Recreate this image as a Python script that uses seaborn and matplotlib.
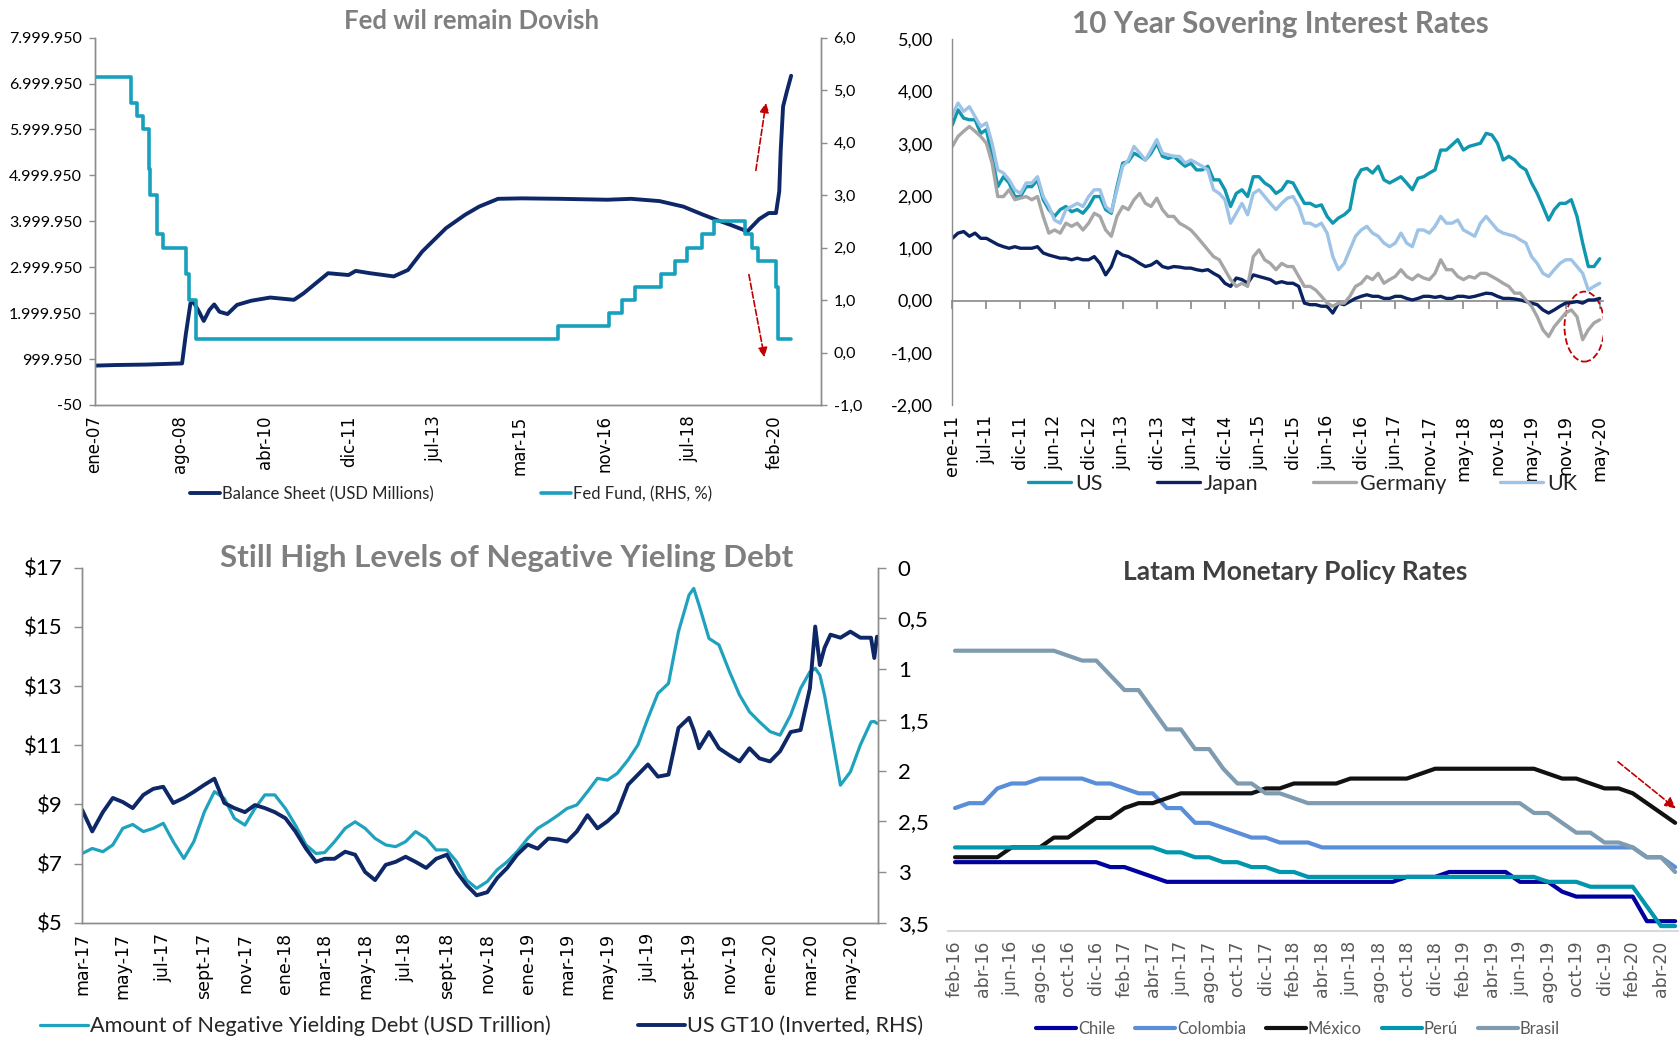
import numpy as np
import pandas as pd
import matplotlib.pyplot as plt
from matplotlib.patches import Ellipse
import seaborn as sns

sns.set_theme(style='white')
plt.rcParams['font.family'] = ['Lato', 'DejaVu Sans']

# ---------------- datos ----------------
# 1) Fed balance sheet (USD millones) y Fed Funds
bs_fechas = ['2007-01-01', '2007-06-01', '2008-01-01', '2008-09-10', '2008-10-06', '2008-11-08',
             '2008-11-28', '2009-01-08', '2009-02-10', '2009-03-22', '2009-04-25', '2009-06-01',
             '2009-07-28', '2009-10-03', '2010-01-11', '2010-05-25', '2010-11-09', '2011-01-15',
             '2011-07-08', '2011-11-29', '2012-01-19', '2012-04-28', '2012-10-13', '2013-01-22',
             '2013-05-02', '2013-10-17', '2014-02-28', '2014-06-08', '2014-10-20', '2015-04-06',
             '2015-12-30', '2016-11-30', '2017-05-16', '2017-12-03', '2018-05-20', '2018-10-01',
             '2019-01-10', '2019-04-20', '2019-08-15', '2019-09-18', '2019-11-07', '2020-01-13',
             '2020-03-04', '2020-03-27', '2020-04-06', '2020-04-23', '2020-05-20', '2020-06-19']
bs_valores = [857000, 870000, 880000, 905000, 1530000, 2210000,
              2250000, 2030000, 1830000, 2070000, 2190000, 2030000,
              1980000, 2180000, 2270000, 2340000, 2290000, 2430000,
              2870000, 2830000, 2920000, 2870000, 2800000, 2940000,
              3340000, 3850000, 4140000, 4320000, 4490000, 4500000,
              4490000, 4470000, 4490000, 4440000, 4320000, 4150000,
              4030000, 3920000, 3780000, 3890000, 4050000, 4180000,
              4180000, 4650000, 5520000, 6500000, 6830000, 7170000]
ff_fechas = ['2007-01-01', '2007-09-18', '2007-10-31', '2007-12-11', '2008-01-22', '2008-01-30',
             '2008-03-18', '2008-04-30', '2008-10-08', '2008-10-29', '2008-12-16', '2015-12-16',
             '2016-12-14', '2017-03-15', '2017-06-14', '2017-12-13', '2018-03-21', '2018-06-13',
             '2018-09-26', '2018-12-19', '2019-07-31', '2019-09-18', '2019-10-30', '2020-03-03',
             '2020-03-15', '2020-06-19']
ff_tasas = [5.25, 4.75, 4.50, 4.25, 3.50, 3.00, 2.25, 2.00, 1.50, 1.00, 0.25, 0.50,
            0.75, 1.00, 1.25, 1.50, 1.75, 2.00, 2.25, 2.50, 2.25, 2.00, 1.75, 1.25,
            0.25, 0.25]
p1_ticks = ['2007-01-01', '2008-08-23', '2010-04-15', '2011-12-06', '2013-07-29',
            '2015-03-21', '2016-11-10', '2018-07-03', '2020-02-23']
p1_etiquetas = ['ene-07', 'ago-08', 'abr-10', 'dic-11', 'jul-13', 'mar-15', 'nov-16', 'jul-18', 'feb-20']
p1_y_izq = [-50, 999950, 1999950, 2999950, 3999950, 4999950, 5999950, 6999950, 7999950]
p1_y_izq_etq = ['-50', '999.950', '1.999.950', '2.999.950', '3.999.950', '4.999.950',
                '5.999.950', '6.999.950', '7.999.950']
p1_y_der = [-1, 0, 1, 2, 3, 4, 5, 6]
p1_y_der_etq = ['-1,0', '0,0', '1,0', '2,0', '3,0', '4,0', '5,0', '6,0']

# 2) Bonos 10 años (mensual, ene-11 .. jun-20)
us_10y = [3.36, 3.65, 3.49, 3.46, 3.46, 3.20, 3.27, 2.76, 2.18, 2.37, 2.25, 1.99, 1.99, 2.18, 2.18,
          2.31, 1.93, 1.74, 1.61, 1.74, 1.80, 1.70, 1.74, 1.67, 1.80, 1.99, 1.99, 1.74, 1.67, 2.18,
          2.63, 2.66, 2.82, 2.76, 2.69, 2.82, 3.01, 2.76, 2.72, 2.76, 2.66, 2.57, 2.63, 2.50, 2.50,
          2.57, 2.31, 2.31, 2.12, 1.80, 2.05, 2.12, 1.99, 2.37, 2.37, 2.25, 2.18, 2.05, 2.12, 2.28,
          2.25, 2.05, 1.86, 1.86, 1.80, 1.83, 1.61, 1.48, 1.58, 1.64, 1.74, 2.31, 2.50, 2.53, 2.44,
          2.57, 2.31, 2.25, 2.31, 2.37, 2.25, 2.12, 2.34, 2.37, 2.44, 2.50, 2.88, 2.88, 2.98, 3.08,
          2.88, 2.95, 2.98, 3.01, 3.20, 3.17, 3.01, 2.69, 2.76, 2.69, 2.57, 2.50, 2.25, 2.05, 1.80,
          1.54, 1.74, 1.86, 1.86, 1.93, 1.61, 1.10, 0.65, 0.65, 0.80]
jp_10y = [1.19, 1.29, 1.32, 1.23, 1.29, 1.19, 1.19, 1.13, 1.07, 1.03, 1.00, 1.03, 1.00, 1.00, 1.00,
          1.03, 0.91, 0.87, 0.84, 0.81, 0.81, 0.78, 0.81, 0.78, 0.78, 0.84, 0.71, 0.49, 0.65, 0.94,
          0.87, 0.84, 0.78, 0.71, 0.65, 0.68, 0.75, 0.65, 0.62, 0.65, 0.64, 0.62, 0.62, 0.59, 0.57,
          0.59, 0.52, 0.46, 0.33, 0.27, 0.43, 0.40, 0.33, 0.49, 0.46, 0.43, 0.40, 0.33, 0.36, 0.33,
          0.33, 0.27, -0.05, -0.08, -0.08, -0.11, -0.11, -0.24, -0.05, -0.08, -0.02, 0.04, 0.08, 0.11, 0.08,
          0.08, 0.04, 0.04, 0.08, 0.08, 0.04, 0.01, 0.04, 0.08, 0.08, 0.06, 0.08, 0.04, 0.04, 0.08,
          0.08, 0.06, 0.08, 0.11, 0.14, 0.13, 0.08, 0.04, 0.04, 0.03, 0.01, -0.02, -0.05, -0.08, -0.18,
          -0.24, -0.18, -0.11, -0.05, -0.04, -0.02, -0.05, 0.01, 0.01, 0.04]
de_10y = [2.95, 3.14, 3.24, 3.33, 3.24, 3.14, 3.01, 2.63, 1.99, 1.99, 2.12, 1.93, 1.96, 1.99, 1.93,
          1.99, 1.61, 1.29, 1.35, 1.29, 1.48, 1.42, 1.48, 1.35, 1.48, 1.67, 1.61, 1.35, 1.23, 1.61,
          1.80, 1.74, 1.93, 2.05, 1.86, 1.80, 1.96, 1.74, 1.61, 1.61, 1.48, 1.42, 1.35, 1.23, 1.10,
          0.97, 0.84, 0.78, 0.59, 0.40, 0.27, 0.33, 0.27, 0.84, 0.97, 0.78, 0.71, 0.59, 0.71, 0.65,
          0.65, 0.46, 0.27, 0.27, 0.20, 0.08, -0.05, -0.11, -0.05, -0.05, 0.08, 0.27, 0.33, 0.46, 0.40,
          0.52, 0.33, 0.40, 0.46, 0.59, 0.46, 0.40, 0.49, 0.43, 0.40, 0.52, 0.78, 0.59, 0.59, 0.46,
          0.40, 0.46, 0.43, 0.52, 0.52, 0.46, 0.40, 0.33, 0.27, 0.14, 0.14, 0.01, -0.11, -0.31, -0.56,
          -0.69, -0.50, -0.37, -0.24, -0.18, -0.31, -0.75, -0.56, -0.43, -0.37]
uk_10y = [3.55, 3.78, 3.62, 3.71, 3.52, 3.33, 3.40, 3.01, 2.50, 2.44, 2.31, 2.12, 2.05, 2.25, 2.25,
          2.37, 1.99, 1.80, 1.54, 1.48, 1.74, 1.80, 1.86, 1.80, 1.99, 2.12, 2.12, 1.80, 1.70, 2.12,
          2.57, 2.69, 2.95, 2.82, 2.69, 2.88, 3.08, 2.82, 2.79, 2.76, 2.76, 2.63, 2.69, 2.63, 2.57,
          2.50, 2.12, 2.05, 1.93, 1.48, 1.67, 1.86, 1.64, 2.05, 2.12, 1.99, 1.86, 1.74, 1.86, 1.96,
          1.99, 1.80, 1.48, 1.48, 1.42, 1.48, 1.29, 0.84, 0.59, 0.71, 0.97, 1.23, 1.35, 1.42, 1.29,
          1.23, 1.10, 1.03, 1.10, 1.29, 1.10, 1.03, 1.35, 1.35, 1.29, 1.42, 1.61, 1.48, 1.48, 1.54,
          1.35, 1.29, 1.23, 1.48, 1.61, 1.48, 1.35, 1.29, 1.26, 1.23, 1.16, 1.10, 0.84, 0.71, 0.52,
          0.46, 0.59, 0.71, 0.78, 0.78, 0.65, 0.52, 0.20, 0.27, 0.33]
p2_etiquetas = ['ene-11', 'jul-11', 'dic-11', 'jun-12', 'dic-12', 'jun-13', 'dic-13', 'jun-14',
                'dic-14', 'jun-15', 'dic-15', 'jun-16', 'dic-16', 'jun-17', 'nov-17', 'may-18',
                'nov-18', 'may-19', 'nov-19', 'may-20']
p2_y = [-2, -1, 0, 1, 2, 3, 4, 5]
p2_y_etq = ['-2,00', '-1,00', '0,00', '1,00', '2,00', '3,00', '4,00', '5,00']

# 3) Deuda con rendimiento negativo (USD billones) y US GT10
p3_fechas = ['2017-03-01', '2017-03-16', '2017-04-01', '2017-04-16', '2017-05-01', '2017-05-16',
             '2017-06-01', '2017-06-16', '2017-07-01', '2017-07-16', '2017-08-01', '2017-08-16',
             '2017-09-01', '2017-09-16', '2017-10-01', '2017-10-16', '2017-11-01', '2017-11-16',
             '2017-12-01', '2017-12-16', '2018-01-01', '2018-01-16', '2018-02-01', '2018-02-16',
             '2018-03-01', '2018-03-16', '2018-04-01', '2018-04-16', '2018-05-01', '2018-05-16',
             '2018-06-01', '2018-06-16', '2018-07-01', '2018-07-16', '2018-08-01', '2018-08-16',
             '2018-09-01', '2018-09-16', '2018-10-01', '2018-10-16', '2018-11-01', '2018-11-16',
             '2018-12-01', '2018-12-16', '2019-01-01', '2019-01-16', '2019-02-01', '2019-02-16',
             '2019-03-01', '2019-03-16', '2019-04-01', '2019-04-16', '2019-05-01', '2019-05-16',
             '2019-06-01', '2019-06-16', '2019-07-01', '2019-07-16', '2019-08-01', '2019-08-16',
             '2019-09-01', '2019-09-08', '2019-09-16', '2019-10-01', '2019-10-16', '2019-11-01',
             '2019-11-16', '2019-12-01', '2019-12-16', '2020-01-01', '2020-01-16', '2020-02-01',
             '2020-02-16', '2020-03-01', '2020-03-09', '2020-03-16', '2020-03-23', '2020-04-01',
             '2020-04-16', '2020-05-01', '2020-05-16', '2020-06-01', '2020-06-06', '2020-06-10']
deuda_negativa = [7.34, 7.51, 7.40, 7.63, 8.19, 8.32, 8.08, 8.19, 8.36, 7.74, 7.17, 7.74,
                  8.75, 9.43, 9.20, 8.53, 8.30, 8.86, 9.32, 9.32, 8.86, 8.30, 7.63, 7.34,
                  7.37, 7.74, 8.19, 8.41, 8.19, 7.85, 7.63, 7.57, 7.74, 8.08, 7.85, 7.46,
                  7.46, 7.06, 6.44, 6.16, 6.39, 6.79, 7.06, 7.40, 7.85, 8.19, 8.41, 8.64,
                  8.86, 8.98, 9.43, 9.88, 9.82, 10.05, 10.50, 11.01, 11.91, 12.75, 13.09, 14.84,
                  16.08, 16.30, 15.74, 14.61, 14.39, 13.48, 12.70, 12.13, 11.79, 11.46, 11.34, 12.02,
                  12.92, 13.48, 13.60, 13.37, 12.70, 11.57, 9.65, 10.10, 11.01, 11.79, 11.80, 11.74]
us_gt10 = [2.39, 2.60, 2.41, 2.27, 2.31, 2.37, 2.24, 2.18, 2.16, 2.32, 2.27, 2.21,
           2.14, 2.08, 2.32, 2.37, 2.41, 2.34, 2.37, 2.41, 2.47, 2.60, 2.77, 2.90,
           2.87, 2.87, 2.80, 2.83, 3.00, 3.08, 2.93, 2.90, 2.85, 2.90, 2.96, 2.87,
           2.83, 3.00, 3.13, 3.23, 3.20, 3.06, 2.96, 2.83, 2.73, 2.77, 2.67, 2.68,
           2.70, 2.60, 2.44, 2.57, 2.50, 2.41, 2.14, 2.04, 1.94, 2.06, 2.04, 1.58,
           1.48, 1.60, 1.78, 1.62, 1.78, 1.85, 1.91, 1.78, 1.88, 1.91, 1.81, 1.62,
           1.60, 1.19, 0.58, 0.96, 0.79, 0.66, 0.69, 0.63, 0.69, 0.69, 0.89, 0.68]
p3_ticks = ['2017-03-01', '2017-05-01', '2017-07-01', '2017-09-01', '2017-11-01', '2018-01-01',
            '2018-03-01', '2018-05-01', '2018-07-01', '2018-09-01', '2018-11-01', '2019-01-01',
            '2019-03-01', '2019-05-01', '2019-07-01', '2019-09-01', '2019-11-01', '2020-01-01',
            '2020-03-01', '2020-05-01']
p3_etiquetas = ['mar-17', 'may-17', 'jul-17', 'sept-17', 'nov-17', 'ene-18', 'mar-18', 'may-18',
                'jul-18', 'sept-18', 'nov-18', 'ene-19', 'mar-19', 'may-19', 'jul-19', 'sept-19',
                'nov-19', 'ene-20', 'mar-20', 'may-20']
p3_y_izq = [5, 7, 9, 11, 13, 15, 17]
p3_y_izq_etq = ['$5', '$7', '$9', '$11', '$13', '$15', '$17']
p3_y_der = [0, 0.5, 1, 1.5, 2, 2.5, 3, 3.5]
p3_y_der_etq = ['0', '0,5', '1', '1,5', '2', '2,5', '3', '3,5']

# 4) Tasas de política monetaria Latam (mensual, feb-16 .. may-20)
chile = [3.5] * 11 + [3.25, 3.25, 3.0, 2.75] + [2.5] * 17 + [2.75] * 3 + [3.0] * 5 + \
        [2.5, 2.5, 2.5, 2.0] + [1.75] * 5 + [0.5, 0.5, 0.5]
colombia = [6.25, 6.5, 6.5, 7.25, 7.5, 7.5, 7.75, 7.75, 7.75, 7.75, 7.5, 7.5, 7.25, 7.0, 7.0,
            6.25, 6.25, 5.5, 5.5, 5.25, 5.0, 4.75, 4.75, 4.5, 4.5, 4.5] + [4.25] * 23 + [3.75, 3.75, 3.25]
mexico = [3.75] * 4 + [4.25] * 3 + [4.75] * 2 + [5.25] + [5.75] * 2 + [6.25] + [6.5] * 2 + [6.75] + \
         [7.0] * 6 + [7.25] * 2 + [7.5] * 4 + [7.75] * 5 + [8.0] + [8.25] * 8 + [8.0] + [7.75] * 2 + \
         [7.5] + [7.25] * 2 + [7.0, 6.5, 6.0, 5.5]
peru = [4.25] * 15 + [4.0, 4.0, 3.75, 3.75, 3.5, 3.5, 3.25, 3.25, 3.0, 3.0] + [2.75] * 17 + \
       [2.5] * 3 + [2.25] * 4 + [1.25, 0.25, 0.25]
brasil = [14.25] * 8 + [14.0, 13.75, 13.75, 13.0, 12.25, 12.25, 11.25, 10.25, 10.25, 9.25, 9.25,
                        8.25, 7.5, 7.5, 7.0, 7.0, 6.75] + [6.5] * 16 + \
         [6.0, 6.0, 5.5, 5.0, 5.0, 4.5, 4.5, 4.25, 3.75, 3.75, 3.0]
p4_etiquetas = ['feb-16', 'abr-16', 'jun-16', 'ago-16', 'oct-16', 'dic-16', 'feb-17', 'abr-17',
                'jun-17', 'ago-17', 'oct-17', 'dic-17', 'feb-18', 'abr-18', 'jun-18', 'ago-18',
                'oct-18', 'dic-18', 'feb-19', 'abr-19', 'jun-19', 'ago-19', 'oct-19', 'dic-19',
                'feb-20', 'abr-20']

# ---------------- estilo ----------------
NAVY = '#0D2767'
TEAL = '#18A1BC'
GRIS_EJE = '#8C8C8C'
ROJO = '#C00000'
TIT = '#7F7F7F'
ROT = ['DejaVu Sans']

fig = plt.figure(figsize=(16.79, 10.40), dpi=100)


def estilo_ejes(ax):
    for s in ax.spines.values():
        s.set_color(GRIS_EJE)
        s.set_linewidth(1.0)
    ax.tick_params(colors=GRIS_EJE, length=4, width=1, direction='out', labelcolor='black')


# ---------- Panel 1 ----------
ax1 = fig.add_axes([0.0563, 0.6106, 0.4327, 0.3532])
ax1b = ax1.twinx()
sns.lineplot(x=pd.to_datetime(bs_fechas), y=bs_valores, ax=ax1, color=NAVY, lw=2.8)
sns.lineplot(x=pd.to_datetime(ff_fechas), y=ff_tasas, ax=ax1b, color=TEAL, lw=2.6,
             drawstyle='steps-post')
ax1.set_xlim(pd.Timestamp('2007-01-01'), pd.Timestamp('2021-01-16'))
ax1.set_ylim(-50, 7999950)
ax1b.set_ylim(-1, 6)
ax1.set_yticks(p1_y_izq)
ax1.set_yticklabels(p1_y_izq_etq, fontsize=11.5)
ax1b.set_yticks(p1_y_der)
ax1b.set_yticklabels(p1_y_der_etq, fontsize=11.5)
ax1.set_xticks(pd.to_datetime(p1_ticks))
ax1.set_xticklabels(p1_etiquetas, rotation=90, fontsize=12, family=ROT)
for a in (ax1, ax1b):
    estilo_ejes(a)
    a.spines['top'].set_visible(False)
    a.set_xlabel('')
    a.set_ylabel('')
ax1.tick_params(axis='y', pad=5)
ax1b.tick_params(axis='y', pad=5)
ax1.grid(False)
ax1b.grid(False)
ax1.annotate('', xy=(pd.Timestamp('2019-12-27'), 6640000), xytext=(pd.Timestamp('2019-10-11'), 5050000),
             arrowprops=dict(arrowstyle='-|>', ls='--', color=ROJO, lw=1.2, mutation_scale=14))
ax1.annotate('', xy=(pd.Timestamp('2019-12-17'), 980000), xytext=(pd.Timestamp('2019-08-22'), 2900000),
             arrowprops=dict(arrowstyle='-|>', ls='--', color=ROJO, lw=1.2, mutation_scale=14))
fig.legend([ax1.get_lines()[0], ax1b.get_lines()[0]],
           ['Balance Sheet (USD Millions)', 'Fed Fund, (RHS, %)'],
           loc='center', bbox_to_anchor=(0.2687, 0.525), ncol=2, frameon=False,
           fontsize=12, handlelength=1.8, columnspacing=6.4, handletextpad=0.15)
fig.text(0.2806, 0.9794, 'Fed wil remain Dovish', ha='center', va='center',
         fontsize=18.5, fontweight='bold', color=TIT)

# ---------- Panel 2 ----------
ax2 = fig.add_axes([0.5672, 0.6106, 0.3876, 0.3516])
meses = np.arange(len(us_10y))
series2 = [('US', us_10y, '#0F97B0'), ('Japan', jp_10y, '#0B2260'),
           ('Germany', de_10y, '#A6A6A6'), ('UK', uk_10y, '#9DC3E6')]
for nombre, vals, col in series2:
    sns.lineplot(x=meses, y=vals, ax=ax2, color=col, lw=2.4, label=nombre)
ax2.get_legend().remove()
ax2.set_xlim(0, 114.6)
ax2.set_ylim(-2, 5)
ax2.set_yticks(p2_y)
ax2.set_yticklabels(p2_y_etq, fontsize=13)
ax2.set_xticks(meses[::6])
ax2.set_xticklabels(p2_etiquetas, rotation=90, fontsize=12.5, family=ROT)
estilo_ejes(ax2)
for s in ('top', 'right', 'bottom'):
    ax2.spines[s].set_visible(False)
ax2.tick_params(axis='x', length=0, pad=7)
ax2.tick_params(axis='y', length=6, pad=8)
cero = ax2.secondary_xaxis(2 / 7)
cero.set_xticks(meses[::6])
cero.set_xticklabels([])
cero.spines['bottom'].set_color(GRIS_EJE)
cero.tick_params(colors=GRIS_EJE, length=6, direction='out')
ax2.add_patch(Ellipse((111.3, -0.5), width=7.0, height=1.34, fill=False, ls='--', ec=ROJO, lw=1.3))
ax2.legend(ax2.get_lines()[:4], [s[0] for s in series2], loc='center', bbox_to_anchor=(0.776, 0.5346),
           bbox_transform=fig.transFigure, ncol=4, frameon=False, fontsize=15.5,
           handlelength=2.0, columnspacing=2.5, handletextpad=0.2)
fig.text(0.7628, 0.9773, '10 Year Sovering Interest Rates', ha='center', va='center',
         fontsize=21.3, fontweight='bold', color=TIT)

# ---------- Panel 3 ----------
ax3 = fig.add_axes([0.0490, 0.1128, 0.4741, 0.3413])
ax3b = ax3.twinx()
f3 = pd.to_datetime(p3_fechas)
sns.lineplot(x=f3, y=deuda_negativa, ax=ax3, color='#1FA2BD', lw=2.3)
sns.lineplot(x=f3, y=us_gt10, ax=ax3b, color=NAVY, lw=2.8)
ax3.set_xlim(pd.Timestamp('2017-03-01'), pd.Timestamp('2020-06-12'))
ax3.set_ylim(5, 17)
ax3b.set_ylim(3.5, 0)
ax3.set_yticks(p3_y_izq)
ax3.set_yticklabels(p3_y_izq_etq, fontsize=16)
ax3b.set_yticks(p3_y_der)
ax3b.set_yticklabels(p3_y_der_etq, fontsize=16)
ax3.set_xticks(pd.to_datetime(p3_ticks))
ax3.set_xticklabels(p3_etiquetas, rotation=90, fontsize=12.5, family=ROT)
for a in (ax3, ax3b):
    estilo_ejes(a)
    a.spines['top'].set_visible(False)
    a.set_xlabel('')
    a.set_ylabel('')
    a.tick_params(axis='y', length=6, pad=8)
fig.legend([ax3.get_lines()[0], ax3b.get_lines()[0]],
           ['Amount of Negative Yielding Debt (USD Trillion)', 'US GT10 (Inverted, RHS)'],
           loc='center', bbox_to_anchor=(0.287, 0.0135), ncol=2, frameon=False,
           fontsize=15.6, handlelength=2.2, columnspacing=4.0, handletextpad=0.1)
fig.text(0.3017, 0.4636, 'Still High Levels of Negative Yieling Debt', ha='center', va='center',
         fontsize=22.6, fontweight='bold', color=TIT)

# ---------- Panel 4 ----------
ax4 = fig.add_axes([0.5646, 0.1048, 0.4373, 0.3026])
ax4.patch.set_alpha(0)
idx = np.arange(len(brasil))
series4 = [('Chile', chile, '#0000A0'), ('Colombia', colombia, '#5B8ED8'),
           ('México', mexico, '#111111'), ('Perú', peru, '#0096AE'), ('Brasil', brasil, '#7F9BAF')]
for nombre, vals, col in series4:
    sns.lineplot(x=idx, y=vals, ax=ax4, color=col, lw=3, label=nombre)
ax4.get_legend().remove()
ax4.set_xlim(-0.5, 51.5)
ax4.set_ylim(0, 16)
ax4.set_yticks([])
ax4.set_xticks(idx[::2])
ax4.set_xticklabels(p4_etiquetas, rotation=90, fontsize=12.5, family=ROT, color='#595959')
for s in ('top', 'right', 'left'):
    ax4.spines[s].set_visible(False)
ax4.spines['bottom'].set_color('#D9D9D9')
ax4.spines['bottom'].set_linewidth(1.5)
ax4.tick_params(axis='x', length=0, pad=7)
ax4.annotate('', xy=(51.2, 6.14), xytext=(46.8, 8.69),
             arrowprops=dict(arrowstyle='-|>', ls='--', color=ROJO, lw=1.2, mutation_scale=16))
ax4.legend(ax4.get_lines()[:5], [s[0] for s in series4], loc='center', bbox_to_anchor=(0.773, 0.0106),
           bbox_transform=fig.transFigure, ncol=5, frameon=False, fontsize=12,
           handlelength=2.4, columnspacing=1.2, handletextpad=0.1, labelcolor='#595959')
fig.text(0.7717, 0.4502, 'Latam Monetary Policy Rates', ha='center', va='center',
         fontsize=19, fontweight='bold', color='#404040')

fig.savefig('out.png', dpi=100, facecolor='white')
